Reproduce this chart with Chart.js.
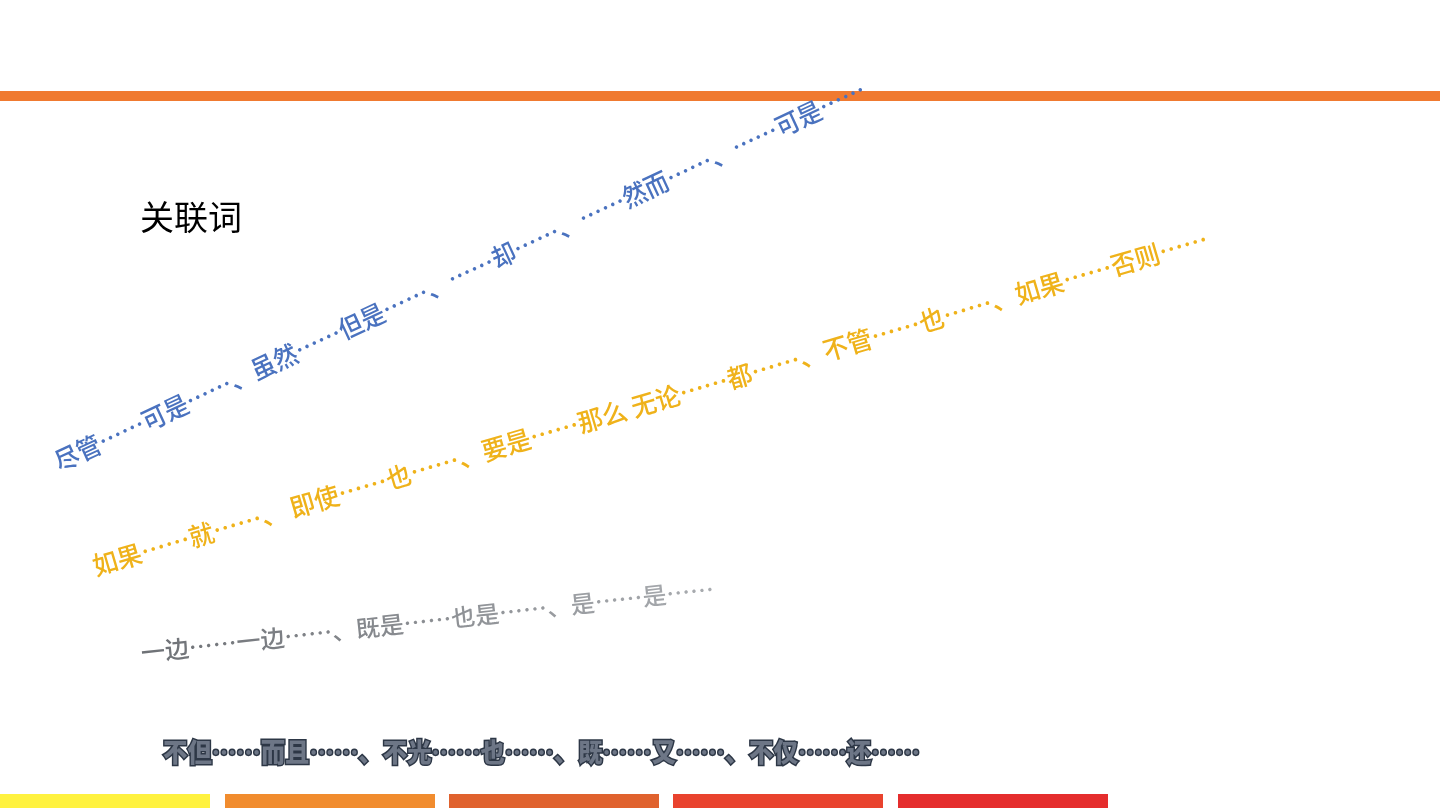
<!DOCTYPE html>
<html>
<head>
<meta charset="utf-8">
<script src="https://cdn.jsdelivr.net/npm/chart.js@4"></script>
<style>
  html, body { margin: 0; padding: 0; background: #fff; }
  #wrap { width: 1440px; height: 810px; }
</style>
</head>
<body>
<div id="wrap"><canvas id="slide"></canvas></div>
<script>
// phrase lines (text, start point, end point in slide coords)
const phrases = [
    '尽管……可是……、虽然……但是……、……却……、……然而……、……可是……',
    '如果……就……、 即使……也……、要是……那么 无论……都……、不管……也……、如果……否则……',
    '一边……一边……、既是……也是……、是……是……',
    '不但……而且……、不光……也……、既……又……、不仅……还……'
];
const phraseStart = [[60, 472], [96, 576], [142, 662], [163, 762]];
const phraseEnd = [[868, 97], [1210, 248], [715, 598], [920, 762]];
const phraseColors = ['#4a72bf', '#efb21a', '#8a8d92', '#3e4a5c'];
const phraseSizes = [26, 26, 24, 26];

const title = '关联词';

// bottom colour strip
const stripStart = [0, 225, 449, 673, 898];
const stripEnd = [210, 435, 659, 883, 1108];
const stripColors = ['#fff23f', '#f18c2e', '#e0622e', '#e9432e', '#e52d2d'];

const datasets = [{
    data: [{x: 0, y: 96}, {x: 1440, y: 96}],
    borderColor: '#f07a30', borderWidth: 10, pointRadius: 0
}];
stripStart.forEach((s, i) => {
    datasets.push({
        data: [{x: s, y: 801}, {x: stripEnd[i], y: 801}],
        borderColor: stripColors[i], borderWidth: 14, pointRadius: 0, borderCapStyle: 'butt'
    });
});

const textPlugin = {
    id: 'slideText',
    afterDatasetsDraw(chart) {
        const ctx = chart.ctx;
        const xs = chart.scales.x, ys = chart.scales.y;
        ctx.save();
        ctx.fillStyle = '#000';
        ctx.font = '34px "Noto Sans CJK SC"';
        ctx.textBaseline = 'alphabetic';
        ctx.fillText(title, xs.getPixelForValue(140), ys.getPixelForValue(230));

        phrases.forEach((p, i) => {
            const x0 = xs.getPixelForValue(phraseStart[i][0]), y0 = ys.getPixelForValue(phraseStart[i][1]);
            const x1 = xs.getPixelForValue(phraseEnd[i][0]), y1 = ys.getPixelForValue(phraseEnd[i][1]);
            const len = Math.hypot(x1 - x0, y1 - y0);
            const ang = Math.atan2(y1 - y0, x1 - x0);
            ctx.save();
            ctx.translate(x0, y0);
            ctx.rotate(ang);
            ctx.font = (i === 3 ? '900 ' : '500 ') + phraseSizes[i] + 'px "Noto Sans CJK SC"';
            const w = ctx.measureText(p).width;
            ctx.scale(len / w, 1);
            if (i === 2) {
                const g = ctx.createLinearGradient(0, 0, w, 0);
                g.addColorStop(0, '#6e7176');
                g.addColorStop(1, '#a9acb0');
                ctx.fillStyle = g;
            } else {
                ctx.fillStyle = phraseColors[i];
            }
            if (i === 3) {
                ctx.lineWidth = 3;
                ctx.strokeStyle = '#2d3746';
                ctx.strokeText(p, 0, 0);
                ctx.fillStyle = '#6d7686';
            }
            ctx.fillText(p, 0, 0);
            ctx.restore();
        });
        ctx.restore();
    }
};

new Chart(document.getElementById('slide'), {
    type: 'line',
    data: { datasets: datasets },
    options: {
        responsive: true,
        maintainAspectRatio: false,
        animation: false,
        layout: { padding: 0 },
        plugins: { legend: { display: false }, tooltip: { enabled: false } },
        scales: {
            x: { type: 'linear', min: 0, max: 1440, display: false },
            y: { type: 'linear', min: 0, max: 810, reverse: true, display: false }
        }
    },
    plugins: [textPlugin]
});
</script>
</body>
</html>
